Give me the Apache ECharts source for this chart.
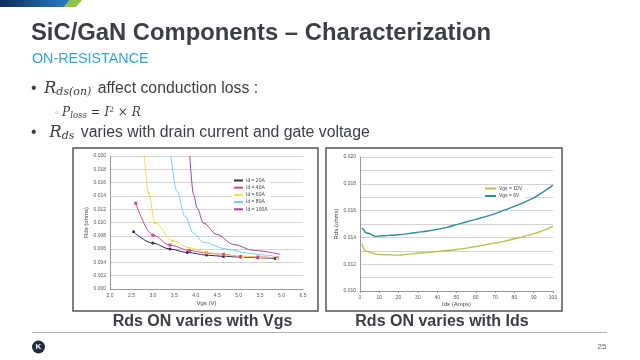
<!DOCTYPE html>
<html><head><meta charset="utf-8">
<script src="https://cdn.jsdelivr.net/npm/echarts@6/dist/echarts.min.js"></script>
<style>html,body{margin:0;padding:0;background:#fff}#c{width:640px;height:360px}</style>
</head><body><div id="c"></div>
<script>
// ---- Data ----
const leftSeriesNames = ['Id = 20A', 'Id = 40A', 'Id = 60A', 'Id = 80A', 'Id = 100A'];
const id20 = [[2.55,0.0086],[3.0,0.0069],[3.4,0.0060],[3.8,0.0055],[4.25,0.0051],[4.65,0.0049],[5.05,0.0048],[5.45,0.0047],[5.85,0.0046]];
const id40 = [[2.6,0.0129],[3.0,0.0081],[3.4,0.0066],[3.85,0.0058],[4.25,0.0054],[4.65,0.0052],[5.05,0.0049],[5.45,0.0048],[5.9,0.0047]];
const id60 = [[2.8,0.0200],[2.9,0.0145],[3.05,0.0100],[3.45,0.0073],[3.85,0.0062],[4.25,0.0055],[4.7,0.0051],[5.1,0.0049],[5.5,0.0048],[5.9,0.0047]];
const id80 = [[3.42,0.0200],[3.56,0.0147],[3.75,0.0109],[3.95,0.0084],[4.18,0.0070],[4.73,0.0060],[5.2,0.0054],[5.6,0.0051],[5.85,0.0049]];
const id100 = [[3.86,0.0200],[3.95,0.0142],[4.03,0.0122],[4.18,0.0099],[4.49,0.0082],[4.88,0.0067],[5.35,0.0058],[5.97,0.0052]];

const rightSeriesNames = ['Vgs = 10V', 'Vgs = 6V'];
const vgs10 = [[1,0.01355],[2,0.0131],[3,0.0130],[5,0.0129],[8,0.01275],[10,0.01272],[15,0.0127],[20,0.01268],[25,0.01275],[30,0.01282],[35,0.01288],[40,0.01295],[45,0.01302],[50,0.0131],[55,0.0132],[60,0.01332],[65,0.01345],[70,0.01358],[75,0.01372],[80,0.0139],[85,0.01408],[90,0.01428],[95,0.01452],[100,0.01485]];
const vgs6 = [[1,0.0147],[2,0.01455],[3,0.01435],[5,0.01428],[8,0.01408],[10,0.0141],[15,0.01415],[20,0.0142],[25,0.01428],[30,0.01438],[35,0.01448],[40,0.0146],[45,0.01475],[50,0.01495],[55,0.01515],[60,0.01535],[65,0.01555],[70,0.01578],[75,0.01605],[80,0.01632],[85,0.01662],[90,0.01695],[95,0.0174],[100,0.0179]];

const captions = ['Rds ON varies with Vgs', 'Rds ON varies with Ids'];

// ---- Styles ----
const F = 'Liberation Sans, Arial, sans-serif';
const M = 'DejaVu Serif, serif';
const TXT = '#3b3f45';
const leftColors = ['#2f2a6e', '#d2478c', '#f4e03c', '#6cd2ea', '#a3458f'];
const leftSymbols = ['circle', 'rect', 'triangle', 'none', 'none'];
const rightColors = ['#abc94c', '#2a8e9e'];
const axisLabel = {fontSize: 5, color: '#555', fontFamily: F};
const gridLine = {show: true, lineStyle: {color: '#c8c8c8', width: 0.8}};

const chart = echarts.init(document.getElementById('c'), null, {renderer: 'canvas'});
const leftData = [id20, id40, id60, id80, id100];
const rightData = [vgs10, vgs6];

const series = [];
leftData.forEach((d, i) => series.push({
  name: leftSeriesNames[i], type: 'line', xAxisIndex: 0, yAxisIndex: 0, data: d,
  smooth: 0.35, smoothMonotone: 'x',
  symbol: leftSymbols[i], symbolSize: 3, showSymbol: leftSymbols[i] !== 'none',
  lineStyle: {width: 1, color: leftColors[i]}, itemStyle: {color: leftColors[i]},
  emphasis: {disabled: true}
}));
rightData.forEach((d, i) => series.push({
  name: rightSeriesNames[i], type: 'line', xAxisIndex: 1, yAxisIndex: 1, data: d,
  smooth: 0.3, symbol: 'none', lineStyle: {width: 1.4, color: rightColors[i]}, itemStyle: {color: rightColors[i]},
  emphasis: {disabled: true}
}));

chart.setOption({
  animation: false,
  grid: [
    {left: 110, top: 156, width: 193, height: 133},
    {left: 360, top: 157, width: 193, height: 134}
  ],
  xAxis: [
    {gridIndex: 0, type: 'value', min: 2.0, max: 6.5, interval: 0.5,
     name: 'Vgs (V)', nameLocation: 'middle', nameGap: 11, nameTextStyle: {fontSize: 6, color: '#444', fontFamily: F},
     axisLine: {lineStyle: {color: '#999'}}, axisTick: {show: false}, splitLine: {show: false},
     axisLabel: Object.assign({margin: 4, formatter: v => v.toFixed(1)}, axisLabel)},
    {gridIndex: 1, type: 'value', min: 0, max: 100, interval: 10,
     name: 'Ids (Amps)', nameLocation: 'middle', nameGap: 10, nameTextStyle: {fontSize: 6, color: '#444', fontFamily: F},
     axisLine: {lineStyle: {color: '#999'}}, axisTick: {show: true, length: 2, lineStyle: {color: '#999'}}, splitLine: {show: false},
     axisLabel: Object.assign({margin: 4}, axisLabel)}
  ],
  yAxis: [
    {gridIndex: 0, type: 'value', min: 0, max: 0.020, interval: 0.002,
     name: 'Rds (ohms)', nameLocation: 'middle', nameGap: 21, nameTextStyle: {fontSize: 6, color: '#444', fontFamily: F},
     axisLine: {show: true, lineStyle: {color: '#999'}}, axisTick: {show: false}, splitLine: gridLine,
     axisLabel: Object.assign({margin: 4, formatter: v => v.toFixed(3)}, axisLabel)},
    {gridIndex: 1, type: 'value', min: 0.010, max: 0.020, interval: 0.001,
     name: 'Rds (ohms)', nameLocation: 'middle', nameGap: 21, nameTextStyle: {fontSize: 6, color: '#444', fontFamily: F},
     axisLine: {show: true, lineStyle: {color: '#999'}}, axisTick: {show: false}, splitLine: gridLine,
     axisLabel: Object.assign({margin: 4, formatter: v => (Math.round(v * 1000) % 2 === 0 ? v.toFixed(3) : '')}, axisLabel)}
  ],
  legend: [
    {data: leftSeriesNames, orient: 'vertical', left: 232, top: 177, itemWidth: 9, itemHeight: 2, itemGap: 2.2,
     icon: 'rect', backgroundColor: '#fff', padding: [1, 3, 1, 2],
     textStyle: {fontSize: 5, color: '#444', fontFamily: F, padding: [0, 0, 0, -2]}, selectedMode: false},
    {data: rightSeriesNames, orient: 'vertical', left: 483, top: 185, itemWidth: 11, itemHeight: 2, itemGap: 2.5,
     icon: 'rect', backgroundColor: '#fff', padding: [1, 3, 1, 2],
     textStyle: {fontSize: 5, color: '#444', fontFamily: F, padding: [0, 0, 0, -2]}, selectedMode: false}
  ],
  series: series,
  graphic: [
    // top accent bar
    {type: 'polygon', shape: {points: [[0,0],[70,0],[64,7],[0,7]]},
     style: {fill: new echarts.graphic.LinearGradient(0,0,1,0,[{offset:0,color:'#0f2a5c'},{offset:1,color:'#2a7fc4'}])}},
    {type: 'polygon', shape: {points: [[70,0],[82,0],[76,7],[64,7]]}, style: {fill: '#8cc63f'}},
    // title + subtitle
    {type: 'text', left: 31, top: 21, style: {text: 'SiC/GaN Components \u2013 Characterization', fontSize: 23.8, fontWeight: 'bold', fill: TXT, fontFamily: F}},
    {type: 'text', left: 32, top: 52, style: {text: 'ON-RESISTANCE', fontSize: 14.3, fill: '#2ea8da', fontFamily: F}},
    // bullets
    {type: 'text', left: 31, top: 80, style: {
      text: '\u2022 {r|R}{s|ds(on)} affect conduction loss :',
      fontSize: 15.8, fill: TXT, fontFamily: F,
      rich: {r: {fontSize: 16.5, fontStyle: 'italic', fontFamily: M, fill: TXT, padding:[0,0,0,3]},
             s: {fontSize: 11, fontStyle: 'italic', fontFamily: M, fill: TXT, padding:[7,2,0,0]}}}},
    {type: 'text', left: 54, top: 106, style: {
      text: '{b|\u25e6} {p|P}{s|loss}{n| = }{p|I}{sup|2}{n| \u00d7 }{p|R}',
      fontSize: 8, fill: TXT, fontFamily: F,
      rich: {b: {fontSize: 10, fontFamily: 'DejaVu Sans, sans-serif', fill: '#666'},
             p: {fontSize: 12, fontStyle: 'italic', fontFamily: M, fill: TXT},
             s: {fontSize: 8.5, fontStyle: 'italic', fontFamily: M, fill: TXT, padding:[5,0,0,0]},
             n: {fontSize: 12, fontFamily: M, fill: TXT},
             sup: {fontSize: 7.5, fontFamily: M, fill: TXT, padding:[0,0,6,0]}}}},
    {type: 'text', left: 31, top: 124, style: {
      text: '\u2022  {r|R}{s|ds} varies with drain current and gate voltage',
      fontSize: 15.8, fill: TXT, fontFamily: F,
      rich: {r: {fontSize: 16.5, fontStyle: 'italic', fontFamily: M, fill: TXT, padding:[0,0,0,4]},
             s: {fontSize: 11, fontStyle: 'italic', fontFamily: M, fill: TXT, padding:[7,2,0,0]}}}},
    // chart frames
    {type: 'rect', shape: {x: 73, y: 148, width: 245, height: 163}, style: {fill: 'none', stroke: '#555', lineWidth: 1.5}, z: 10},
    {type: 'rect', shape: {x: 326, y: 148, width: 236, height: 163}, style: {fill: 'none', stroke: '#555', lineWidth: 1.5}, z: 10},
    // captions
    {type: 'text', x: 202.5, y: 314, style: {text: captions[0], fontSize: 16, fontWeight: 'bold', fill: TXT, fontFamily: F, align: 'center'}},
    {type: 'text', x: 442, y: 314, style: {text: captions[1], fontSize: 16, fontWeight: 'bold', fill: TXT, fontFamily: F, align: 'center'}},
    // footer
    {type: 'line', shape: {x1: 32, y1: 332.5, x2: 607, y2: 332.5}, style: {stroke: '#b0b0b0', lineWidth: 1}},
    {type: 'circle', shape: {cx: 38.5, cy: 347, r: 6.5}, style: {fill: '#1f2d3d'}},
    {type: 'text', x: 38.5, y: 347, style: {text: 'K', fontSize: 8, fontWeight: 'bold', fill: '#fff', fontFamily: F, align: 'center', verticalAlign: 'middle'}},
    {type: 'text', x: 602, y: 347, style: {text: '25', fontSize: 8, fill: '#666', fontFamily: F, align: 'center', verticalAlign: 'middle'}}
  ]
});
</script></body></html>
